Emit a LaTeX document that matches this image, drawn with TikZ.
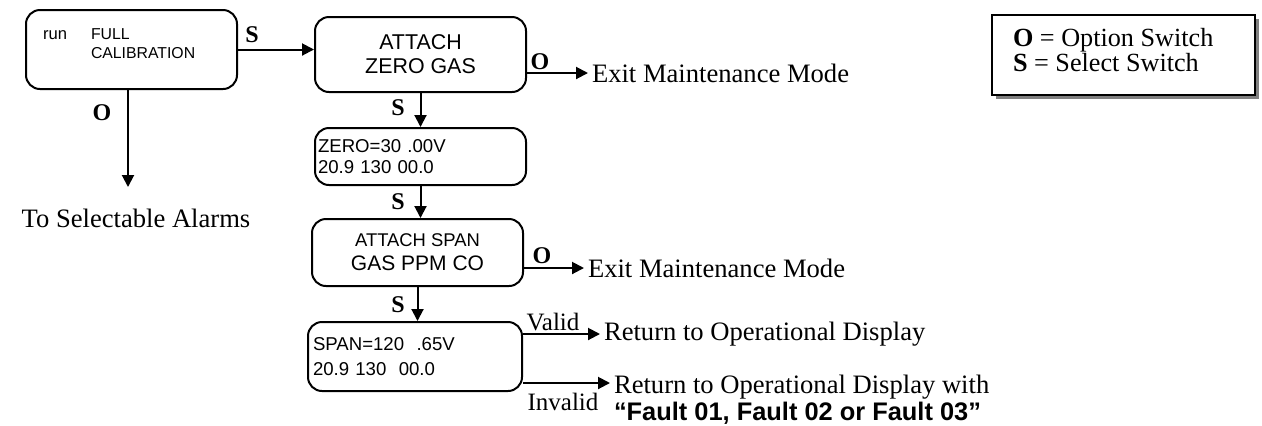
\documentclass[tikz,border=0pt]{standalone}
\usepackage{fontspec}
\setmainfont{Liberation Serif}
\setsansfont{Liberation Sans}
\usepackage{tikz}
\usetikzlibrary{arrows.meta,shadows}
\newcommand{\txtsize}[2]{\fontsize{#1}{#2}\selectfont}

\begin{document}
\begin{tikzpicture}[x=0.5pt, y=-0.5pt, line width=1pt,
        >={Triangle[length=6pt,width=6pt]},
        panel/.style={draw, rounded corners=7pt, inner sep=0pt},
        key/.style={font=\bfseries\txtsize{12}{12}, inner sep=0pt},
        note/.style={font=\txtsize{13.3}{13.3}, anchor=west, inner sep=1.5pt},
        legendbox/.style={draw, fill=white, minimum width=131.5pt, minimum height=40pt,
            drop shadow={shadow xshift=2pt, shadow yshift=-2pt, fill=black!50, opacity=1}}]
        \useasboundingbox (0, 0) rectangle (1262, 425);

        \node[panel, minimum width=105.5pt, minimum height=39.5pt] (full) at (131.5, 49.5) {};
        \node[font=\sffamily\txtsize{7.9}{9.5}, align=left, anchor=west, inner sep=0pt] (fullcal) at (90, 43.5) {FULL\\CALIBRATION};
        \node[font=\sffamily\txtsize{8.3}{9.5}, inner sep=0pt, anchor=base west] (run) at (42, 39) {run};

        \node[panel, font=\sffamily\txtsize{10.7}{12}, align=center, minimum width=105.5pt, minimum height=37.5pt] (zerogas) at (420.5, 54.5) {ATTACH\\ZERO GAS};

        \node[panel, font=\sffamily\txtsize{9.3}{10.5}, align=left, text width=102.5pt, inner xsep=1.5pt, minimum height=28.5pt] (zeroval) at (420.5, 156.5) {ZERO=30 .00V\\20.9 130 00.0};

        \node[panel, font=\sffamily, align=center, minimum width=105.5pt, minimum height=33.5pt] (spangas) at (417.5, 252.5) {\txtsize{9.2}{11.5}ATTACH SPAN\\\txtsize{10.5}{11.5}GAS PPM CO};

        \node[panel, font=\sffamily\txtsize{9.3}{12.5}, align=left, text width=102pt, inner xsep=2.5pt, minimum height=34.5pt] (spanval) at (415, 356.5) {SPAN=120\ \ .65V\\20.9 130\ \ 00.0};

        \node[note] (exitA) at (588, 73) {Exit Maintenance Mode};
        \node[note] (exitB) at (584, 268) {Exit Maintenance Mode};
        \node[note, anchor=center] (alarms) at (136, 218) {To Selectable Alarms};
        \node[note] (retok) at (600, 334) {Return to Operational Display};
        \node[note, align=left] (retfault) at (610, 400) {Return to Operational Display with\\{\sffamily\bfseries\txtsize{12.7}{13.5}“Fault 01, Fault 02 or Fault 03”}};
        \coordinate (alarmtip) at (128, 187);
        \coordinate (failtip) at (610, 383);

        \node[legendbox] (legend) at (1123.5, 55) {};
        \node[font=\txtsize{13.1}{12.5}, align=left, anchor=west, inner sep=0pt] (legendtext) at (1012, 50) {\textbf{O} = Option Switch\\\textbf{S} = Select Switch};

        \draw[->] (full.east) -- (full.east -| zerogas.west);
        \node[key] (s1) at (252, 35) {S};
        \draw[->] (full.south -| alarmtip) -- (alarmtip);
        \node[key] (o1) at (102, 113) {O};

        \draw[->] (zerogas.east |- exitA.west) -- (exitA.west);
        \node[key] (o2) at (540, 62) {O};
        \draw[->] (zerogas.south) -- (zeroval.north);
        \node[key] (s2) at (398, 108) {S};

        \draw[->] (zeroval.south) -- (zeroval.south |- spangas.north);
        \node[key] (s3) at (398, 202) {S};
        \draw[->] (spangas.east |- exitB.west) -- (exitB.west);
        \node[key] (o3) at (542, 256) {O};
        \draw[->] (spangas.south) -- (spangas.south |- spanval.north);
        \node[key] (s4) at (398, 305) {S};

        \draw[->] (spanval.east |- retok.west) -- (retok.west);
        \node[font=\txtsize{12.5}{12.5}, inner sep=0pt] (valid) at (553, 322) {Valid};
        \draw[->] (spanval.east |- failtip) -- (failtip);
        \node[font=\txtsize{12.5}{12.5}, inner sep=0pt] (invalid) at (563, 402) {Invalid};
    \end{tikzpicture}
\end{document}
